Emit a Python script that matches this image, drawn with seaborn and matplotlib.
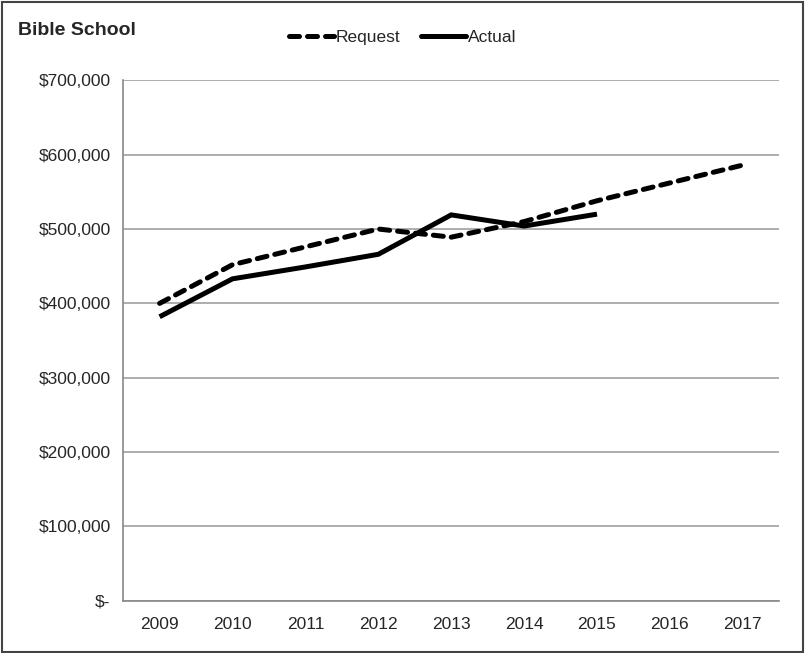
import matplotlib
matplotlib.use("Agg")
import matplotlib.pyplot as plt
import matplotlib.ticker as mticker
from matplotlib.lines import Line2D
import seaborn as sns
import pandas as pd

years = ["2009", "2010", "2011", "2012", "2013", "2014", "2015", "2016", "2017"]
request = [400000, 452000, 476000, 500000, 489000, 510000, 538000, 562000, 586000]
actual = [382000, 433000, 449000, 466000, 519000, 504000, 520000]

sns.set_style("white")
plt.rcParams["font.family"] = ["Liberation Sans", "DejaVu Sans"]

df = pd.concat([
    pd.DataFrame({"Year": years, "Value": request, "Series": "Request"}),
    pd.DataFrame({"Year": years[:len(actual)], "Value": actual, "Series": "Actual"}),
])
df["x"] = df["Year"].map({y: i for i, y in enumerate(years)})

fig = plt.figure(figsize=(8.05, 6.53), dpi=100)
ax = fig.add_axes([0.153, 0.08, 0.815, 0.797])

sns.lineplot(data=df, x="x", y="Value", hue="Series", style="Series",
             palette={"Request": "black", "Actual": "black"},
             dashes={"Request": (2.0, 1.6), "Actual": ""},
             linewidth=3.6, sort=False, ax=ax, legend=False)
for line in ax.lines:
    line.set_dash_capstyle("round")
    line.set_solid_capstyle("butt")
    line.set_solid_joinstyle("miter")

ax.set_xlim(-0.5, len(years) - 0.5)
ax.set_ylim(0, 700000)
ax.yaxis.set_major_locator(mticker.MultipleLocator(100000))
ax.yaxis.set_major_formatter(mticker.FuncFormatter(
    lambda v, p: "$-" if v == 0 else f"${v:,.0f}"))
ax.set_xticks(range(len(years)))
ax.set_xticklabels(years)
ax.set_xticks([i - 0.5 for i in range(len(years) + 1)], minor=True)
ax.tick_params(axis="x", which="major", length=0, pad=12, labelsize=12.5)
ax.tick_params(axis="x", which="minor", length=6, color="#888888", width=1, direction="out")
ax.tick_params(axis="y", length=6, color="#888888", width=1, direction="out", pad=3, labelsize=12.5)
ax.set_xlabel("")
ax.set_ylabel("")
ax.grid(axis="y", color="#a0a0a0", linewidth=1.2)
ax.set_axisbelow(True)
for s in ["top", "right"]:
    ax.spines[s].set_visible(False)
for s in ["left", "bottom"]:
    ax.spines[s].set_color("#888888")
    ax.spines[s].set_linewidth(1.2)

h_req = Line2D([], [], color="black", linewidth=3.6, dashes=(2.0, 1.6), dash_capstyle="round")
h_act = Line2D([], [], color="black", linewidth=3.6)
fig.legend([h_req, h_act], ["Request", "Actual"], loc="center", bbox_to_anchor=(0.5, 0.943),
           ncol=2, frameon=False, handlelength=2.6, handletextpad=0.1, columnspacing=1.2,
           fontsize=12.5)

fig.text(0.022, 0.953, "Bible School", fontsize=14, fontweight="bold", va="center", ha="left")
fig.patches.append(plt.Rectangle((0.002, 0.002), 0.996, 0.995, transform=fig.transFigure,
                                 fill=False, edgecolor="#444444", linewidth=1.5))

fig.savefig("out.png", dpi=100)
